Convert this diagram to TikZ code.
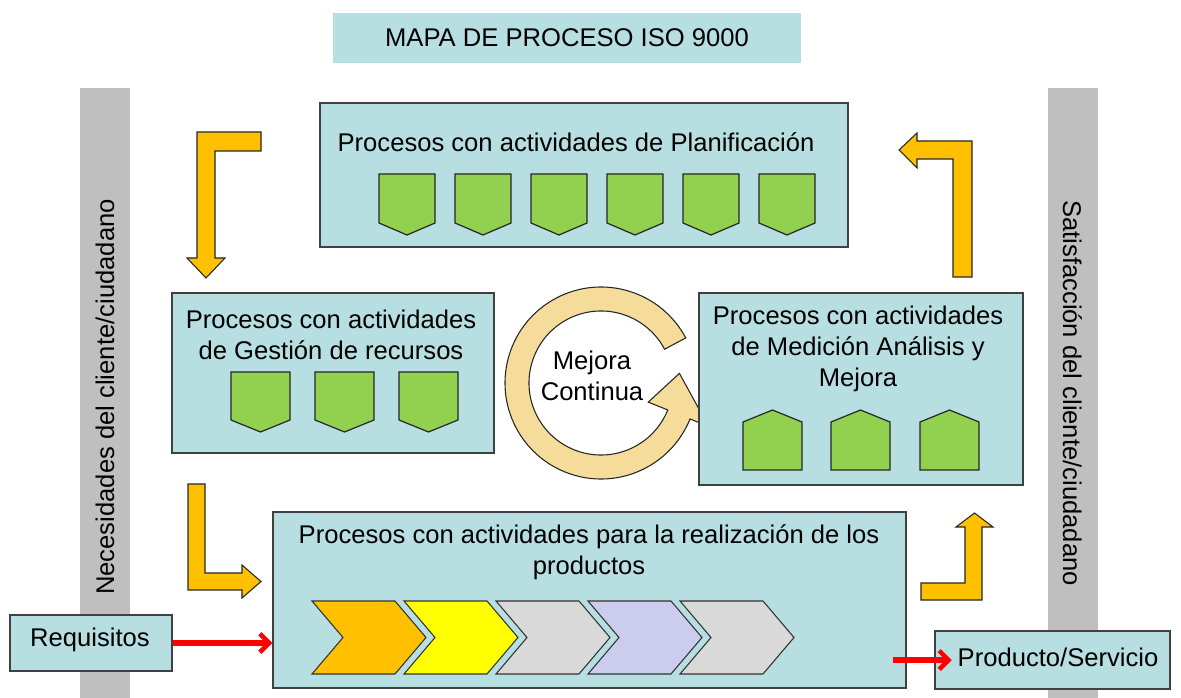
\documentclass[tikz,border=0pt]{standalone}
\usepackage{fontspec}
\setmainfont{Liberation Sans}
\usetikzlibrary{arrows.meta}
\definecolor{boxblue}{RGB}{183,222,225}
\definecolor{barg}{RGB}{191,191,191}
\definecolor{orangeA}{RGB}{255,192,0}
\definecolor{greenP}{RGB}{146,208,80}
\definecolor{ringc}{RGB}{245,220,155}
\definecolor{lgray}{RGB}{217,217,217}
\definecolor{lilac}{RGB}{204,204,238}
\definecolor{yel}{RGB}{255,255,0}
\tikzset{
  box/.style={draw=black!75, fill=boxblue, line width=0.9pt, inner sep=0pt},
  bar/.style={fill=barg, draw=none, inner sep=0pt},
  txt/.style={align=center, font=\fontsize{19.2}{23.3}\selectfont, inner sep=0pt},
  bent/.style={fill=orangeA, draw=black!85, line width=0.8pt, line join=miter},
  pent/.style={fill=greenP, draw=black!85, line width=0.9pt},
  chev/.style={draw=black!80, line width=0.8pt},
  redarrow/.style={draw=red, line width=3.8pt, line cap=butt, -{Straight Barb[length=7pt,width=14pt,line width=3.4pt]}},
}
\begin{document}
\begin{tikzpicture}[x=0.75pt,y=-0.75pt]
\useasboundingbox (0,0) rectangle (1181,698);
% gray side bars
\node[bar, minimum width=37.5pt, minimum height=457.5pt] (lbar) at (105,393) {};
\node[bar, minimum width=37.5pt, minimum height=457.5pt] (rbar) at (1072.5,393) {};
\node[txt, rotate=90] (lbart) at (105,397) {Necesidades del cliente/ciudadano};
\node[txt, rotate=-90] (rbart) at (1072.5,393) {Satisfacción del cliente/ciudadano};
% title
\node[fill=boxblue, minimum width=351pt, minimum height=37.5pt, inner sep=0pt] (title) at (567,38) {};
\node[txt] (titlet) at (567,38) {MAPA DE PROCESO ISO 9000};
% circular arrow
\begin{scope}[shift={(601,383)}, x=0.75pt, y=0.75pt]
\fill[ringc, draw=black!85, line width=0.8pt] (28:96) arc[start angle=28, end angle=338, radius=96]
  -- (338:116) -- (7:79) -- (338:51) -- (338:72)
  arc[start angle=338, end angle=28, radius=72] -- cycle;
\end{scope}
\node[txt] (mejora) at (592,376) {Mejora\\Continua};
% boxes
\node[box, minimum width=396pt, minimum height=108pt] (plan) at (584,175) {};
\node[box, minimum width=241.5pt, minimum height=120pt] (rec) at (333,373) {};
\node[box, minimum width=243pt, minimum height=144pt] (med) at (861,389) {};
\node[box, minimum width=474.75pt, minimum height=132pt] (real) at (589.5,600) {};
\node[box, minimum width=121.5pt, minimum height=42pt] (req) at (91,643) {};
\node[box, minimum width=176.25pt, minimum height=43.5pt] (prod) at (1052.5,660) {};
\node[txt] (plant) at (576,142) {Procesos con actividades de Planificación};
\node[txt] (rect) at (331,335) {Procesos con actividades\\de Gestión de recursos};
\node[txt] (medt) at (858,349) {Procesos con actividades\\de Medición Análisis y\\Mejora};
\node[txt] (realt) at (589,552) {Procesos con actividades para la realización de los\\productos};
\node[txt] (reqt) at (90,640) {Requisitos};
\node[txt] (prodt) at (1058,657) {Producto/Servicio};
% green pentagons (planning)
\foreach \i in {0,...,5} {
  \draw[pent] ({379+76*\i},174) -- ({435+76*\i},174) -- ({435+76*\i},223) -- ({407+76*\i},235) -- ({379+76*\i},223) -- cycle;
}
% green pentagons (resources)
\foreach \x in {231,315,399} {
  \draw[pent] (\x,372) -- ({\x+59},372) -- ({\x+59},420) -- ({\x+29.5},432) -- (\x,420) -- cycle;
}
% houses (measurement)
\foreach \x in {743,831,920} {
  \draw[pent] (\x,470) -- ({\x+59},470) -- ({\x+59},422) -- ({\x+29.5},410) -- (\x,422) -- cycle;
}
% chevrons
\foreach \x/\c in {312/orangeA,404/yel,496/lgray,588/lilac,680/lgray} {
  \draw[chev, fill=\c] (\x,601) -- ({\x+83},601) -- ({\x+114},637.5) -- ({\x+83},674) -- (\x,674) -- ({\x+31},637.5) -- cycle;
}
% orange bent arrows
\draw[bent] (261,132) -- (261,151) -- (215,151) -- (215,258) -- (225,258) -- (206,278) -- (187,258) -- (197,258) -- (197,132) -- cycle;
\draw[bent] (972,277) -- (953,277) -- (953,159) -- (917,159) -- (917,168) -- (899,150) -- (917,133) -- (917,141) -- (972,141) -- cycle;
\draw[bent] (188,484) -- (205,484) -- (205,573) -- (242,573) -- (242,565) -- (261,581.5) -- (242,598) -- (242,590) -- (188,590) -- cycle;
\draw[bent] (921,600) -- (921,583) -- (965,583) -- (965,527) -- (956,527) -- (974.5,513) -- (993,527) -- (982,527) -- (982,600) -- cycle;
% red arrows
\coordinate (prodin) at (893,660);
\draw[redarrow] (req.east) -- (real.west |- req.east);
\draw[redarrow] (prodin) -- ([xshift=13pt]prod.west);
\end{tikzpicture}
\end{document}
